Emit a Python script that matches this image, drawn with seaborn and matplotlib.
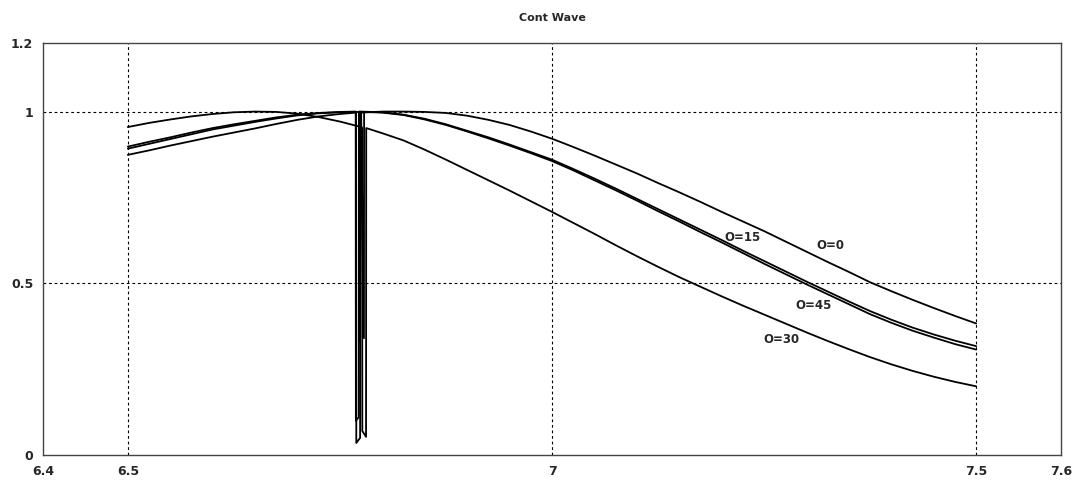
import numpy as np
import pandas as pd
import matplotlib
matplotlib.use('Agg')
import matplotlib.pyplot as plt
import seaborn as sns

# 곡선 데이터 (그림에서 읽은 값, 0.025 간격)
x_base = [6.500, 6.525, 6.550, 6.575, 6.600, 6.625, 6.650, 6.675, 6.700, 6.725,
          6.750, 6.775, 6.800, 6.825, 6.850, 6.875, 6.900, 6.925, 6.950, 6.975,
          7.000, 7.025, 7.050, 7.075, 7.100, 7.125, 7.150, 7.175, 7.200, 7.225,
          7.250, 7.275, 7.300, 7.325, 7.350, 7.375, 7.400, 7.425, 7.450, 7.475,
          7.500]

y_o0 = [0.874, 0.887, 0.901, 0.914, 0.927, 0.939, 0.951, 0.964, 0.976, 0.986,
        0.993, 0.997, 1.000, 1.000, 0.999, 0.996, 0.988, 0.976, 0.961, 0.942,
        0.921, 0.897, 0.872, 0.846, 0.820, 0.792, 0.765, 0.737, 0.708, 0.680,
        0.652, 0.622, 0.592, 0.562, 0.533, 0.503, 0.477, 0.452, 0.428, 0.405,
        0.383]
y_o15 = [0.898, 0.912, 0.925, 0.939, 0.952, 0.963, 0.973, 0.983, 0.991, 0.996,
         0.999, 1.000, 0.998, 0.991, 0.979, 0.963, 0.944, 0.925, 0.904, 0.882,
         0.860, 0.833, 0.805, 0.776, 0.746, 0.716, 0.686, 0.656, 0.626, 0.595,
         0.565, 0.535, 0.505, 0.476, 0.447, 0.419, 0.394, 0.371, 0.351, 0.333,
         0.317]
y_o45 = [0.892, 0.906, 0.920, 0.934, 0.948, 0.959, 0.970, 0.980, 0.989, 0.995,
         0.998, 0.999, 0.997, 0.990, 0.977, 0.961, 0.942, 0.922, 0.901, 0.879,
         0.856, 0.829, 0.800, 0.771, 0.741, 0.710, 0.680, 0.649, 0.619, 0.588,
         0.557, 0.527, 0.497, 0.468, 0.439, 0.410, 0.385, 0.362, 0.342, 0.323,
         0.307]
y_o30 = [0.955, 0.967, 0.977, 0.986, 0.993, 0.998, 1.000, 0.999, 0.994, 0.984,
         0.971, 0.955, 0.937, 0.916, 0.889, 0.860, 0.830, 0.800, 0.770, 0.739,
         0.708, 0.676, 0.644, 0.611, 0.579, 0.548, 0.518, 0.490, 0.462, 0.435,
         0.409, 0.383, 0.357, 0.332, 0.308, 0.285, 0.264, 0.245, 0.228, 0.213,
         0.200]

# 좁은 공진 딥 (위, 바닥 왼쪽, 바닥 오른쪽, 위)
dip_x = {'O=0': [6.7691, 6.7693, 6.7738, 6.7740],
         'O=15': [6.7686, 6.7688, 6.7722, 6.7724],
         'O=45': [6.7733, 6.7735, 6.7783, 6.7785],
         'O=30': [6.7762, 6.7764, 6.7808, 6.7810]}
dip_y = {'O=0': [0.997, 0.035, 0.050, 0.997],
         'O=15': [1.000, 0.100, 0.110, 1.000],
         'O=45': [0.999, 0.330, 0.340, 0.999],
         'O=30': [0.953, 0.070, 0.053, 0.952]}

series = {'O=0': y_o0, 'O=15': y_o15, 'O=45': y_o45, 'O=30': y_o30}

# 라벨 위치
label_pos = {'O=15': (7.224, 0.634), 'O=0': (7.328, 0.611),
             'O=45': (7.308, 0.436), 'O=30': (7.270, 0.336)}

rows = []
for name, ys in series.items():
    for x, y in zip(x_base, ys):
        rows.append((name, x, y))
    for x, y in zip(dip_x[name], dip_y[name]):
        rows.append((name, x, y))
df = pd.DataFrame(rows, columns=['curve', 'x', 'y']).sort_values(['curve', 'x'])

sns.set_style('white')
plt.rcParams['font.family'] = ['DejaVu Sans']

fig = plt.figure(figsize=(10.83, 4.82), dpi=100)
ax = fig.add_axes([0.0397, 0.056, 0.9400, 0.855])

for name in series:
    d = df[df['curve'] == name]
    sns.lineplot(data=d, x='x', y='y', color='black', lw=1.3, ax=ax,
                 sort=False, estimator=None)

for name, (lx, ly) in label_pos.items():
    ax.text(lx, ly, name, ha='center', va='center', fontsize=8.5,
            fontweight='bold', family='DejaVu Sans')

ax.set_xlim(6.4, 7.6)
ax.set_ylim(0, 1.2)
ax.set_xticks([6.4, 6.5, 7, 7.5, 7.6])
ax.set_xticklabels(['6.4', '6.5', '7', '7.5', '7.6'])
ax.set_yticks([0, 0.5, 1, 1.2])
ax.set_yticklabels(['0', '0.5', '1', '1.2'])
ax.set_xlabel('')
ax.set_ylabel('')

for v in [6.5, 7, 7.5]:
    ax.axvline(v, color='black', lw=0.8, ls=(0, (2.5, 2.5)), zorder=0)
for v in [0.5, 1]:
    ax.axhline(v, color='black', lw=0.8, ls=(0, (2.5, 2.5)), zorder=0)

for s in ax.spines.values():
    s.set_color('#444444')
    s.set_linewidth(1.0)
ax.tick_params(axis='both', direction='out', length=4, width=1, color='#444444',
               labelsize=9, pad=3)
for lab in ax.get_xticklabels() + ax.get_yticklabels():
    lab.set_fontweight('bold')

ax.set_title('Cont Wave', fontsize=8, fontweight='bold', pad=16)

fig.savefig('out.png', dpi=100)
